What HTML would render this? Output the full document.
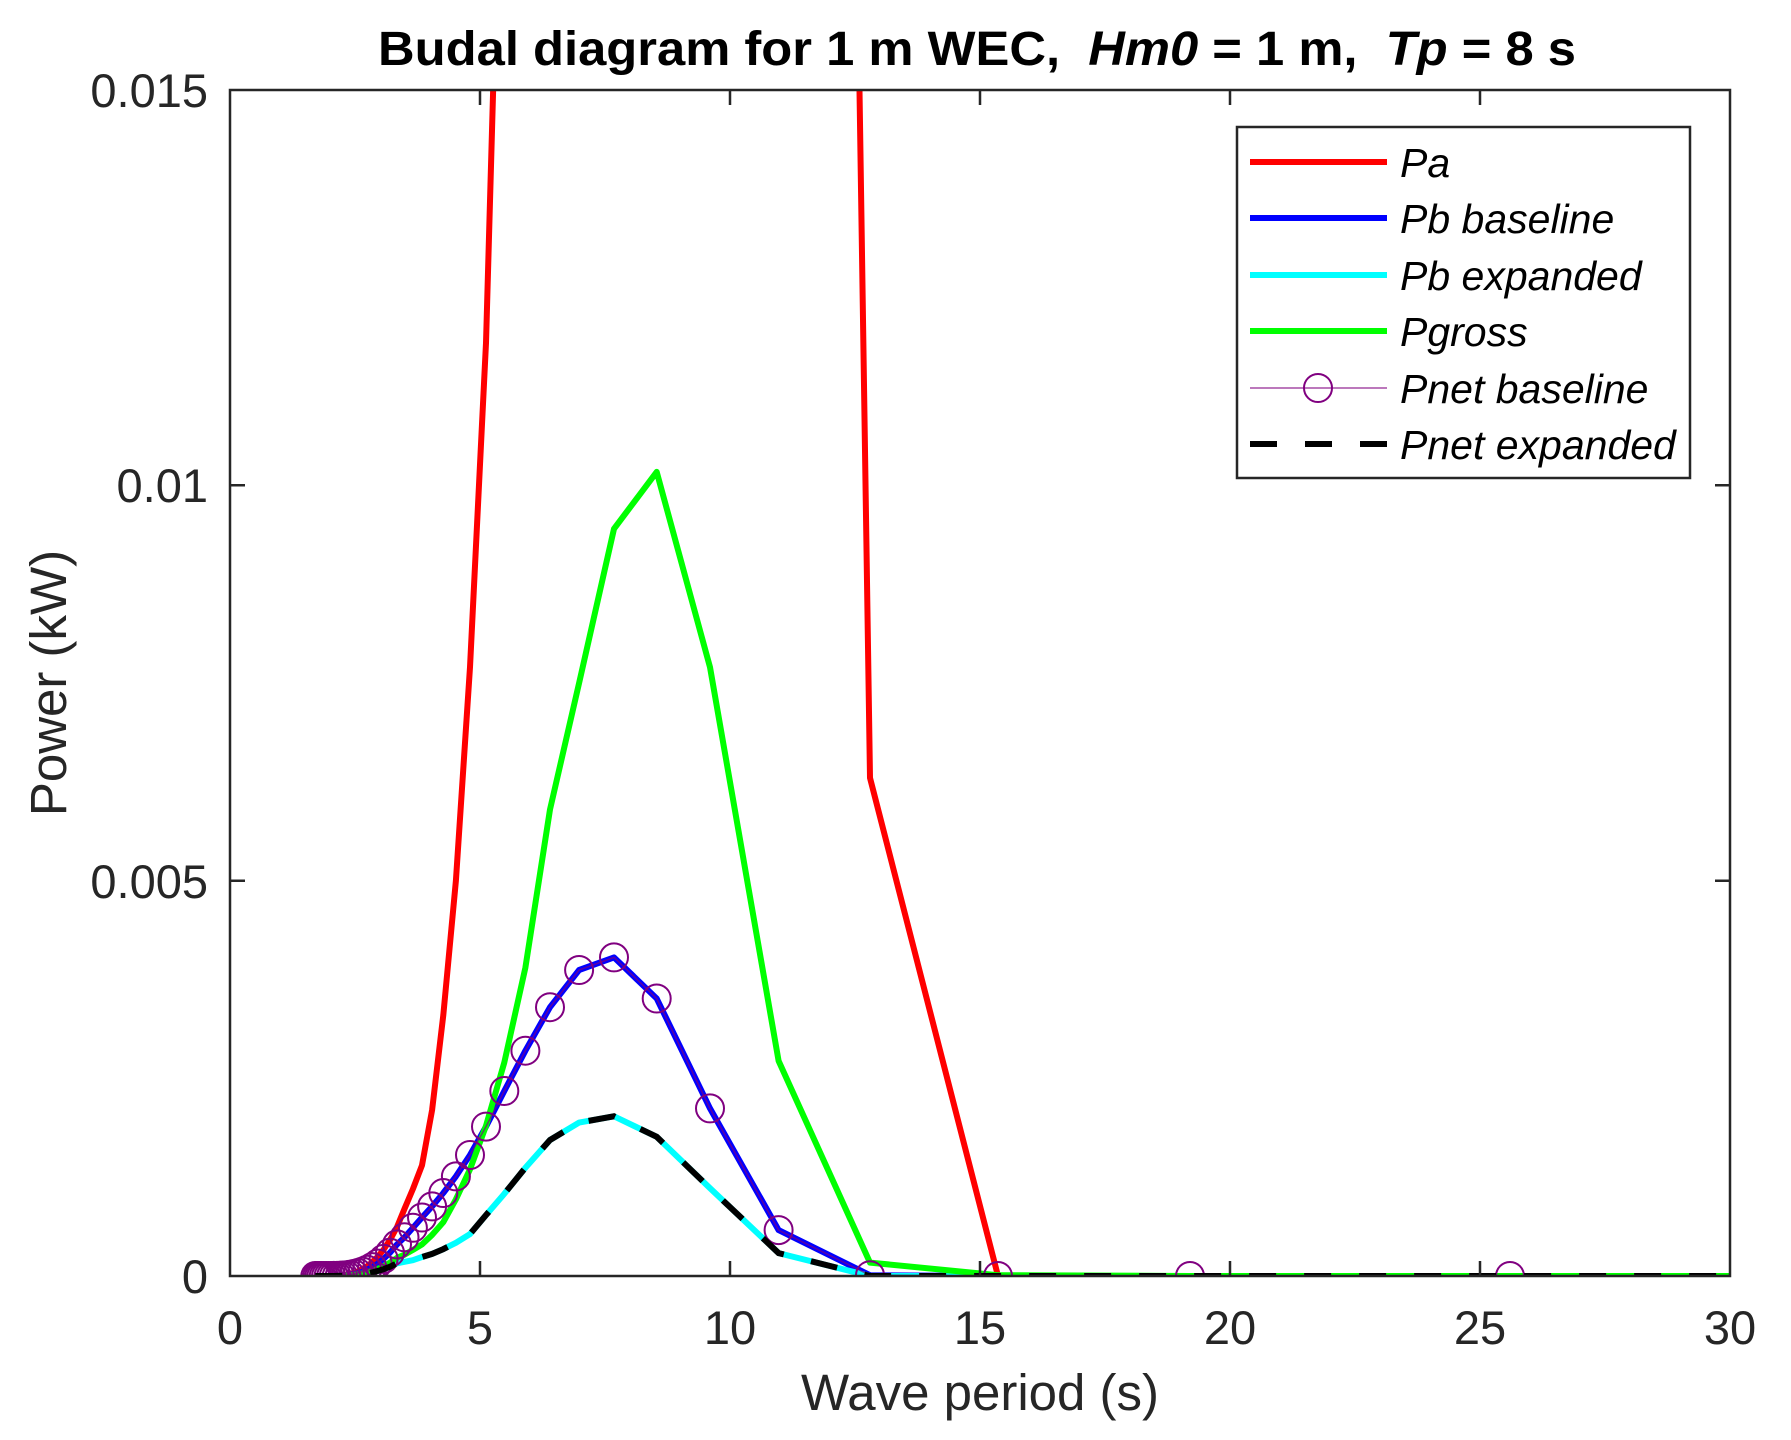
<!DOCTYPE html>
<html><head><meta charset="utf-8"><style>
html,body{margin:0;padding:0;background:#fff}
svg{display:block}
text{font-family:"Liberation Sans",Arial,sans-serif}
</style></head><body>
<svg id="s" width="1791" height="1440" viewBox="0 0 1791 1440" xmlns="http://www.w3.org/2000/svg">
<rect width="1791" height="1440" fill="#fff"/>
<defs><clipPath id="c"><rect x="230" y="90" width="1500" height="1186"/></clipPath></defs>
<g id="plot" clip-path="url(#c)"></g>
<g stroke="#262626" stroke-width="2.5" fill="none">
<rect x="230" y="90" width="1500" height="1186"/>
<path d="M480,1276v-15M730,1276v-15M980,1276v-15M1230,1276v-15M1480,1276v-15M480,90v15M730,90v15M980,90v15M1230,90v15M1480,90v15M230,880.7h15M230,485.3h15M1730,880.7h-15M1730,485.3h-15"/>
</g>
<g fill="#262626" font-size="47" text-anchor="middle">
<text x="230" y="1344">0</text><text x="480" y="1344">5</text><text x="730" y="1344">10</text><text x="980" y="1344">15</text><text x="1230" y="1344">20</text><text x="1480" y="1344">25</text><text x="1730" y="1344">30</text>
</g>
<g fill="#262626" font-size="47" text-anchor="end">
<text x="208" y="1293">0</text><text x="208" y="898">0.005</text><text x="208" y="502">0.01</text><text x="208" y="107">0.015</text>
</g>
<text x="980" y="1410" font-size="51" fill="#262626" text-anchor="middle">Wave period (s)</text>
<text transform="translate(66,683) rotate(-90)" font-size="51" fill="#262626" text-anchor="middle">Power (kW)</text>
<text x="977" y="65" font-size="48" font-weight="bold" fill="#000" text-anchor="middle" textLength="1198" lengthAdjust="spacingAndGlyphs">Budal diagram for 1 m WEC,&#160; <tspan font-style="italic">Hm0</tspan> = 1 m,&#160; <tspan font-style="italic">Tp</tspan> = 8 s</text>
<rect x="1237" y="127" width="453" height="351" fill="#fff" stroke="#262626" stroke-width="2.5"/>
<g stroke-width="6">
<line x1="1250" y1="162" x2="1387" y2="162" stroke="#ff0000"/>
<line x1="1250" y1="218" x2="1387" y2="218" stroke="#0000ff"/>
<line x1="1250" y1="275" x2="1387" y2="275" stroke="#00ffff"/>
<line x1="1250" y1="331" x2="1387" y2="331" stroke="#00ff00"/>
<line x1="1250" y1="388" x2="1387" y2="388" stroke="#800080" stroke-width="1.5" opacity="0.7"/>
<line x1="1250" y1="444" x2="1387" y2="444" stroke="#000" stroke-dasharray="27 28"/>
</g>
<circle cx="1318" cy="388" r="14" fill="none" stroke="#800080" stroke-width="2"/>
<g font-size="41" font-style="italic" fill="#000">
<text x="1400" y="177">Pa</text><text x="1400" y="233">Pb baseline</text><text x="1400" y="290">Pb expanded</text><text x="1400" y="346">Pgross</text><text x="1400" y="403">Pnet baseline</text><text x="1400" y="459">Pnet expanded</text>
</g>
</svg>
<script>
(function(){
var X=function(t){return 230+t*50;},Y=function(v){return 1276-v/0.015*1186;};
var red={3:0,4:0,5:0,6:0.0063,7:0.082,8:0.09,9:0.09,10:0.09,11:0.08,12:0.06,13:0.04,14:0.020,15:0.0118,16:0.0077,17:0.0050,18:0.0033,19:0.0021,20:0.0014,21:0.0011,22:0.00085,23:0.00062};
var blue={3:0,4:0,5:0,6:0.00001,7:0.00058,8:0.00212,9:0.00351,10:0.00403,11:0.00387,12:0.0034,13:0.00285,14:0.00234,15:0.00189,16:0.00153,17:0.00126,18:0.00105,19:0.00088,20:0.00074,21:0.00061,22:0.00049,23:0.0004};
var green={3:0,4:0,5:0.00001,6:0.00017,7:0.00272,8:0.0077,9:0.01017,10:0.00945,11:0.0075,12:0.0059,13:0.0039,14:0.0027,15:0.0019,16:0.00135,17:0.00097,18:0.00068,19:0.00052,20:0.0004,21:0.00033,22:0.00027,23:0.00023};
var cyan={3:0,4:0,5:0,6:0,7:0.00029,8:0.00111,9:0.00176,10:0.00202,11:0.00194,12:0.00172,13:0.00137,14:0.00104,15:0.00077,16:0.00053,17:0.00042,18:0.00034,19:0.00028,20:0.00024,21:0.0002,22:0.00018,23:0.00016};
function g(T){var a=(T-1.9)/1.44;if(a<0)a=0;return Math.pow(a,3);}
var ser=[[red,0.00062,'#ff0000'],[blue,0.0004,'#0000ff'],[cyan,0.00016,'#00ffff'],[green,0.00023,'#00ff00']];
function pts(o,k){var p=[];for(var n=3;n<=45;n++){var T=76.8/n,v=n<=23?o[n]:k*g(T);p.push([X(T),Y(v)]);}
 p.push([1730,Y(0)]);p.sort(function(a,b){return a[0]-b[0];});return p.map(function(q){return q[0].toFixed(1)+','+q[1].toFixed(1);}).join(' ');}
var plot=document.getElementById('plot'),h='';
ser.forEach(function(s){h+='<polyline fill="none" stroke="'+s[2]+'" stroke-width="6" stroke-linejoin="round" points="'+pts(s[0],s[1])+'"/>';});
var bp=[];for(var n=3;n<=45;n++){var T=76.8/n,v=n<=23?blue[n]:0.0004*g(T);bp.push([X(T),Y(v)]);}
h+='<polyline fill="none" stroke="#800080" stroke-width="1.5" opacity="0.7" points="'+bp.map(function(q){return q.join(',');}).join(' ')+'"/>';
bp.forEach(function(q){h+='<circle cx="'+q[0].toFixed(1)+'" cy="'+q[1].toFixed(1)+'" r="14" fill="none" stroke="#800080" stroke-width="2"/>';});
h+='<polyline fill="none" stroke="#000" stroke-width="6" stroke-dasharray="27 28" points="'+pts(cyan,0.00016)+'"/>';
plot.innerHTML=h;
})();
</script>
</body></html>
